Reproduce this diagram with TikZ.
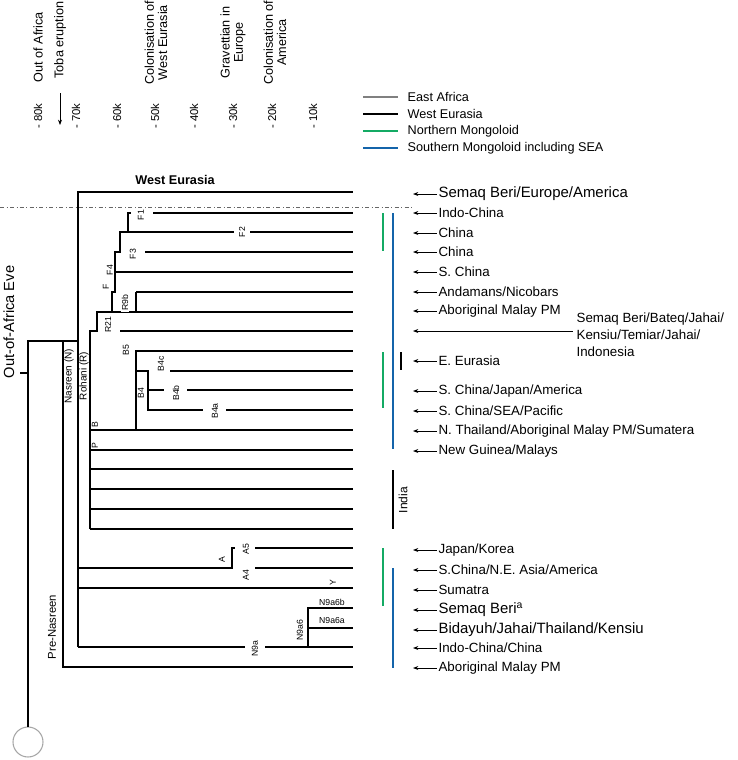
\documentclass[tikz,border=0pt]{standalone}
\usepackage{fontspec}
\setmainfont{Liberation Sans}
\usetikzlibrary{arrows.meta}
\definecolor{nmgreen}{RGB}{20,170,100}
\definecolor{smblue}{RGB}{20,100,170}
\tikzset{
  branch/.style={line width=1.1pt},
  hap/.style={font=\fontsize{6.5}{6.5}\selectfont, inner sep=0.5pt},
  rhap/.style={hap, rotate=90},
  leaf/.style={font=\fontsize{10}{10}\selectfont, anchor=west, inner sep=1pt},
  bigleaf/.style={leaf, font=\fontsize{11.2}{11}\selectfont},
  tip/.style={{Stealth[length=4pt]}-, line width=0.6pt},
  era/.style={font=\fontsize{9.5}{10}\selectfont, rotate=90, align=center, inner sep=1pt},
  bar/.style={line width=2pt}
}
\begin{document}
\begin{tikzpicture}[x=0.75pt,y=-0.75pt]
\useasboundingbox (0,0) rectangle (738,760);

% time axis
\foreach \x/\t in {38/80,76/70,117/60,155/50,194/40,233/30,272/20,313/10}
  \node[era, font=\fontsize{8.5}{9}\selectfont, anchor=center] (k\t) at (\x,116) {- \t k};
\node[era, anchor=west] (ooa) at (38,84) {Out of Africa};
\node[era, anchor=west] (toba) at (60,80) {Toba eruption};
\draw[-{Stealth[length=4pt]}, line width=0.5pt] (60,93) -- (60,125);
\node[era, anchor=west] (cwe) at (156,86) {Colonisation of\\West Eurasia};
\node[era, anchor=west] (grav) at (233,80) {Gravettian in\\Europe};
\node[era, anchor=west] (cam) at (275,86) {Colonisation of\\America};

% legend
\foreach \y/\c/\t in {97/gray/East Africa,114/black/West Eurasia,131/nmgreen/Northern Mongoloid,148/smblue/Southern Mongoloid including SEA}{
  \draw[line width=1.6pt, \c] (363,\y) -- (398,\y);
  \node[anchor=west, font=\fontsize{9.5}{10}\selectfont] at (403,\y) {\t};
}

% root
\draw[gray!70, line width=0.8pt] (28,742) circle (15);
\draw[branch] (28,727) -- (28,341) -- (78,341);
\draw[branch] (20,373) -- (28,373);
\node[font=\fontsize{11}{11}\selectfont, rotate=90] (eve) at (9,322) {Out-of-Africa Eve};

% pre-Nasreen
\draw[branch] (63,341) -- (63,667) -- (353,667);
\node[rhap, font=\fontsize{8.5}{9}\selectfont] (preN) at (52,627) {Pre-Nasreen};

% Nasreen
\draw[branch] (78,647) -- (78,192) -- (353,192);
\node[rhap, font=\fontsize{7.5}{8}\selectfont] (nN) at (69,376) {Nasreen (N)};
\node[font=\bfseries\fontsize{9.5}{10}\selectfont] (we) at (175,180) {West Eurasia};
\draw[dash dot, line width=0.5pt, gray!80!black] (0,207) -- (412,207);

% Rohani
\node[rhap, font=\fontsize{7.5}{8}\selectfont] (nR) at (84,376) {Rohani (R)};
\draw[branch] (90,529) -- (90,331) -- (97,331) -- (97,312) -- (112,312) -- (112,292) -- (115,292)
  -- (115,252) -- (120,252) -- (120,232) -- (128,232) -- (128,213) -- (131,213);
\draw[branch] (112,312) -- (136,312);
\draw[branch] (120,331) -- (353,331);
\node[rhap] (r21) at (108,325) {R21};
\draw[branch] (136,292) -- (136,312) -- (353,312);
\draw[branch] (136,292) -- (353,292);
\node[rhap, fill=white] (r9b) at (125,303) {R9b};
\draw[branch] (115,272) -- (353,272);
\node[rhap] (hf) at (106,287) {F};
\node[rhap] (hf4) at (110,270) {F4};
\draw[branch] (145,252) -- (353,252);
\node[rhap] (hf3) at (133,254) {F3};
\draw[branch] (128,232) -- (234,232) (250,232) -- (353,232);
\node[rhap] (hf2) at (242,232) {F2};
\draw[branch] (153,213) -- (353,213);
\node[rhap] (hf1) at (141,215) {F1};

% B
\draw[branch] (90,430) -- (353,430);
\node[rhap] (hb) at (95,425) {B};
\draw[branch] (136,430) -- (136,351) -- (353,351);
\node[rhap] (hb5) at (126,350) {B5};
\draw[branch] (136,371) -- (148,371) -- (148,410) -- (203,410);
\draw[branch] (226,410) -- (353,410);
\node[rhap] (hb4a) at (215,411) {B4a};
\draw[branch] (148,390) -- (164,390);
\draw[branch] (187,390) -- (353,390);
\node[rhap] (hb4b) at (176,393) {B4b};
\draw[branch] (170,371) -- (353,371);
\node[rhap] (hb4c) at (161,364) {B4c};
\node[rhap] (hb4) at (141,393) {B4};
\node[rhap] (hp) at (95,446) {P};
\foreach \y in {450,469,489,509,529}
  \draw[branch] (90,\y) -- (353,\y);

% A, Y, N9a
\draw[branch] (78,568) -- (232,568) -- (232,548) -- (235,548);
\node[rhap] (ha) at (222,560) {A};
\draw[branch] (255,548) -- (353,548);
\node[rhap] (ha5) at (246,549) {A5};
\draw[branch] (255,568) -- (353,568);
\node[rhap] (ha4) at (246,575) {A4};
\draw[branch] (78,588) -- (353,588);
\node[rhap] (hy) at (333,583) {Y};
\draw[branch] (78,647) -- (245,647) (265,647) -- (353,647);
\node[rhap] (hn9a) at (255,649) {N9a};
\draw[branch] (308,647) -- (308,608) -- (353,608);
\draw[branch] (308,628) -- (353,628);
\node[rhap] (hn9a6) at (300,630) {N9a6};
\node[hap] (hn9a6b) at (332,602) {N9a6b};
\node[hap] (hn9a6a) at (332,621) {N9a6a};

% regional bars
\draw[bar, nmgreen] (383,213) -- (383,251);
\draw[bar, smblue] (393,213) -- (393,449);
\draw[bar, nmgreen] (383,352) -- (383,408);
\draw[bar, black] (401,352) -- (401,370);
\draw[bar, black] (393,470) -- (393,529);
\node[rhap, font=\fontsize{9}{9}\selectfont] (india) at (403,500) {India};
\draw[bar, nmgreen] (383,548) -- (383,606);
\draw[bar, smblue] (393,568) -- (393,668);

% leaves
\node[bigleaf] (l0) at (437,194) {Semaq Beri/Europe/America};
\draw[tip] (413,194) -- (l0);
\foreach \n/\y/\t in {1/213/{Indo-China},2/233/{China},3/252/{China},4/272/{S. China},
  5/292/{Andamans/Nicobars},6/311/{Aboriginal Malay PM},7/361/{E. Eurasia},
  8/391/{S. China/Japan/America},9/411/{S. China/SEA/Pacific},
  10/431/{N. Thailand/Aboriginal Malay PM/Sumatera},11/451/{New Guinea/Malays},
  12/550/{Japan/Korea},13/570/{S.China/N.E. Asia/America},14/590/{Sumatra},
  17/648/{Indo-China/China},18/668/{Aboriginal Malay PM}}{
  \node[leaf] (l\n) at (437,\y) {\t};
  \draw[tip] (413,\y) -- (l\n);
}
\node[bigleaf] (l15) at (437,610) {Semaq Beri\textsuperscript{a}};
\draw[tip] (413,610) -- (l15);
\node[bigleaf] (l16) at (437,630) {Bidayuh/Jahai/Thailand/Kensiu};
\draw[tip] (413,630) -- (l16);
\node[leaf, anchor=north west, align=left, font=\fontsize{10}{13}\selectfont] (lsb) at (575,311)
  {Semaq Beri/Bateq/Jahai/\\Kensiu/Temiar/Jahai/\\Indonesia};
\draw[tip, line width=0.5pt] (413,331) -- (573,331);
\end{tikzpicture}
\end{document}
